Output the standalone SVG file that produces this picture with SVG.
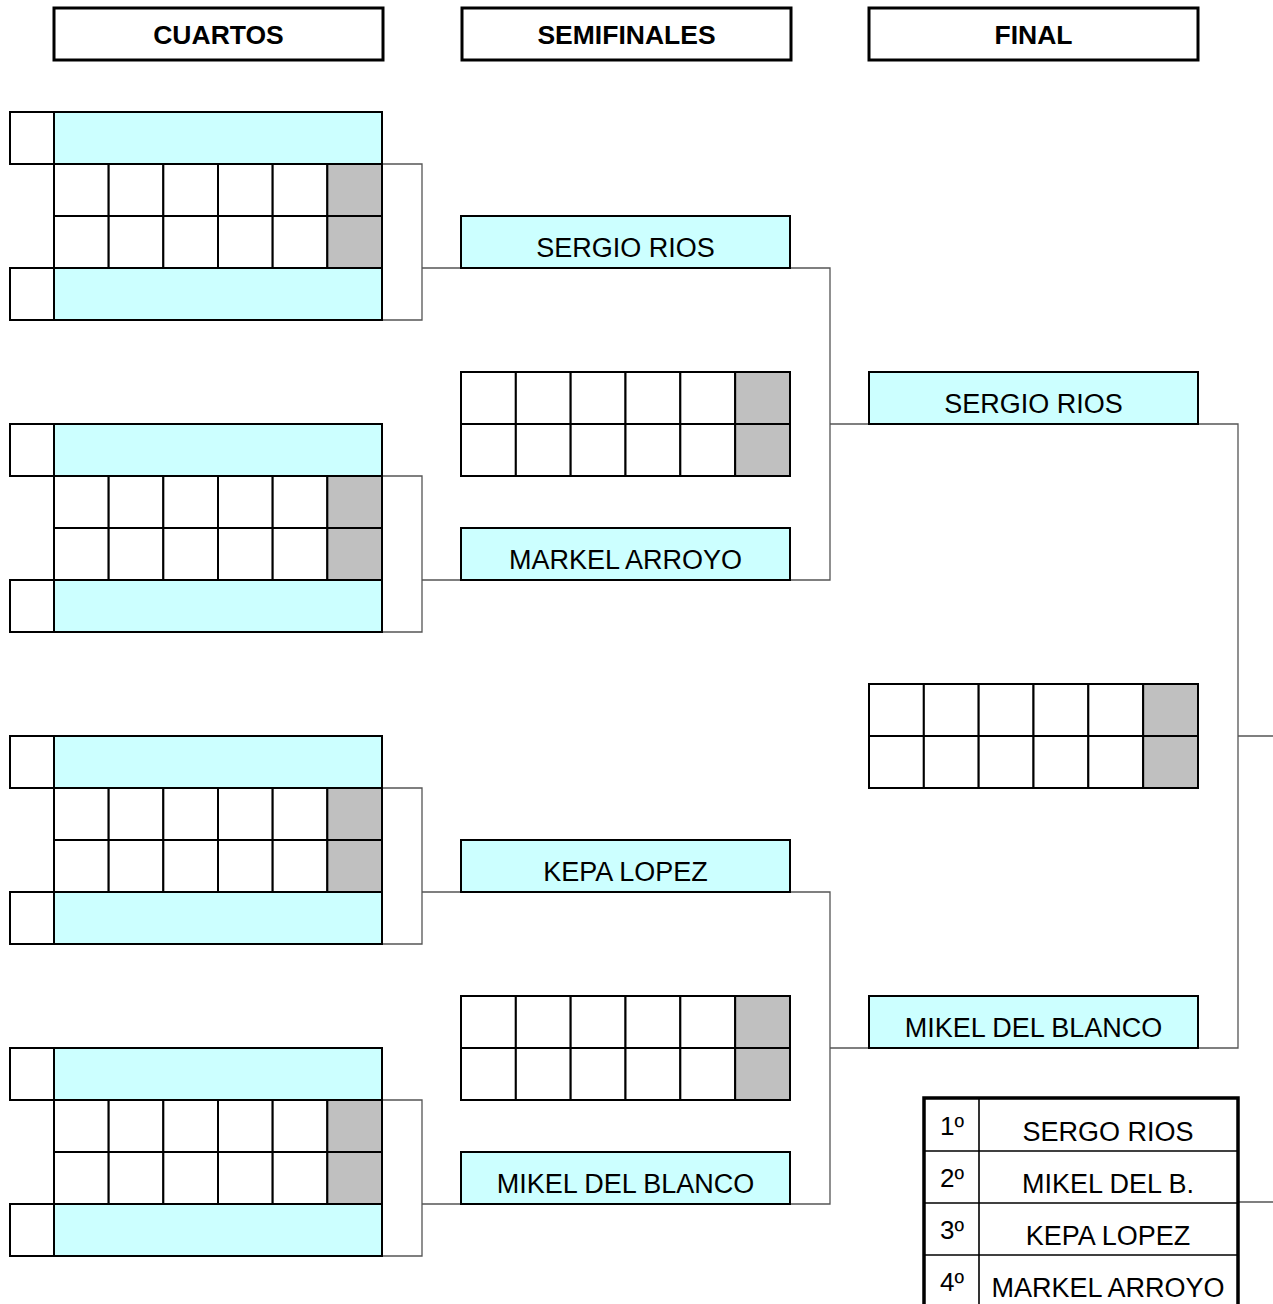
<svg xmlns="http://www.w3.org/2000/svg" width="1273" height="1304" viewBox="0 0 1273 1304">
<style>
.hdr{fill:#fff;stroke:#000;stroke-width:3}
.ht{font-family:"Liberation Sans",Arial,sans-serif;font-weight:bold;font-size:26.5px;text-anchor:middle;fill:#000}
.sq{fill:#fff;stroke:#000;stroke-width:2}
.cy{fill:#ccffff;stroke:#000;stroke-width:2}
.gr{fill:#c0c0c0;stroke:#000;stroke-width:2}
.nm{font-family:"Liberation Sans",Arial,sans-serif;font-size:27px;text-anchor:middle;fill:#000}
.rk{font-family:"Liberation Sans",Arial,sans-serif;font-size:26px;text-anchor:middle;fill:#000}
.ln{fill:none;stroke:#555;stroke-width:1.3}
.tb{fill:#fff;stroke:#000;stroke-width:3.5}
.tl{stroke:#000;stroke-width:1.6;fill:none}
</style>
<defs>
<g id="grid6q">
<rect class="sq" x="0" y="0" width="54.67" height="52"/><rect class="sq" x="54.67" y="0" width="54.67" height="52"/><rect class="sq" x="109.33" y="0" width="54.67" height="52"/><rect class="sq" x="164" y="0" width="54.67" height="52"/><rect class="sq" x="218.67" y="0" width="54.67" height="52"/><rect class="gr" x="273.33" y="0" width="54.67" height="52"/>
<rect class="sq" x="0" y="52" width="54.67" height="52"/><rect class="sq" x="54.67" y="52" width="54.67" height="52"/><rect class="sq" x="109.33" y="52" width="54.67" height="52"/><rect class="sq" x="164" y="52" width="54.67" height="52"/><rect class="sq" x="218.67" y="52" width="54.67" height="52"/><rect class="gr" x="273.33" y="52" width="54.67" height="52"/>
</g>
<g id="grid6s">
<rect class="sq" x="0" y="0" width="54.83" height="52"/><rect class="sq" x="54.83" y="0" width="54.83" height="52"/><rect class="sq" x="109.67" y="0" width="54.83" height="52"/><rect class="sq" x="164.5" y="0" width="54.83" height="52"/><rect class="sq" x="219.33" y="0" width="54.83" height="52"/><rect class="gr" x="274.17" y="0" width="54.83" height="52"/>
<rect class="sq" x="0" y="52" width="54.83" height="52"/><rect class="sq" x="54.83" y="52" width="54.83" height="52"/><rect class="sq" x="109.67" y="52" width="54.83" height="52"/><rect class="sq" x="164.5" y="52" width="54.83" height="52"/><rect class="sq" x="219.33" y="52" width="54.83" height="52"/><rect class="gr" x="274.17" y="52" width="54.83" height="52"/>
</g>
<g id="quarter">
<rect class="sq" x="10" y="0" width="44" height="52"/>
<rect class="cy" x="54" y="0" width="328" height="52"/>
<use href="#grid6q" x="54" y="52"/>
<rect class="sq" x="10" y="156" width="44" height="52"/>
<rect class="cy" x="54" y="156" width="328" height="52"/>
</g>
</defs>

<g id="connectors">
<polyline class="ln" points="382,164 422,164 422,320 382,320"/><line class="ln" x1="422" y1="268" x2="461" y2="268"/>
<polyline class="ln" points="382,476 422,476 422,632 382,632"/><line class="ln" x1="422" y1="580" x2="461" y2="580"/>
<polyline class="ln" points="382,788 422,788 422,944 382,944"/><line class="ln" x1="422" y1="892" x2="461" y2="892"/>
<polyline class="ln" points="382,1100 422,1100 422,1256 382,1256"/><line class="ln" x1="422" y1="1204" x2="461" y2="1204"/>
<polyline class="ln" points="790,268 830,268 830,580 790,580"/><line class="ln" x1="830" y1="424" x2="868" y2="424"/>
<polyline class="ln" points="790,892 830,892 830,1204 790,1204"/><line class="ln" x1="830" y1="1048" x2="868" y2="1048"/>
<polyline class="ln" points="1198,424 1238,424 1238,1048 1198,1048"/><line class="ln" x1="1238" y1="736" x2="1273" y2="736"/>
<line class="ln" x1="1238" y1="1202" x2="1273" y2="1202"/>
</g>

<g id="header-cuartos"><rect class="hdr" x="54" y="8" width="329" height="52"/><text class="ht" x="218.5" y="44">CUARTOS</text></g>
<g id="header-semifinales"><rect class="hdr" x="462" y="8" width="329" height="52"/><text class="ht" x="626.5" y="44">SEMIFINALES</text></g>
<g id="header-final"><rect class="hdr" x="869" y="8" width="329" height="52"/><text class="ht" x="1033.5" y="44">FINAL</text></g>

<g id="quarter-1"><use href="#quarter" y="112"/></g>
<g id="quarter-2"><use href="#quarter" y="424"/></g>
<g id="quarter-3"><use href="#quarter" y="736"/></g>
<g id="quarter-4"><use href="#quarter" y="1048"/></g>

<g id="semi-sergio"><rect class="cy" x="461" y="216" width="329" height="52"/><text class="nm" x="625.5" y="257">SERGIO RIOS</text></g>
<g id="semi-score-1"><use href="#grid6s" x="461" y="372"/></g>
<g id="semi-markel"><rect class="cy" x="461" y="528" width="329" height="52"/><text class="nm" x="625.5" y="569">MARKEL ARROYO</text></g>
<g id="semi-kepa"><rect class="cy" x="461" y="840" width="329" height="52"/><text class="nm" x="625.5" y="881">KEPA LOPEZ</text></g>
<g id="semi-score-2"><use href="#grid6s" x="461" y="996"/></g>
<g id="semi-mikel"><rect class="cy" x="461" y="1152" width="329" height="52"/><text class="nm" x="625.5" y="1193">MIKEL DEL BLANCO</text></g>

<g id="final-sergio"><rect class="cy" x="869" y="372" width="329" height="52"/><text class="nm" x="1033.5" y="413">SERGIO RIOS</text></g>
<g id="final-score"><use href="#grid6s" x="869" y="684"/></g>
<g id="final-mikel"><rect class="cy" x="869" y="996" width="329" height="52"/><text class="nm" x="1033.5" y="1037">MIKEL DEL BLANCO</text></g>

<g id="ranking">
<rect class="tb" x="924" y="1098" width="314" height="215"/>
<line class="tl" x1="979" y1="1098" x2="979" y2="1310"/>
<line class="tl" x1="924" y1="1151" x2="1238" y2="1151"/>
<line class="tl" x1="924" y1="1203" x2="1238" y2="1203"/>
<line class="tl" x1="924" y1="1255" x2="1238" y2="1255"/>
<text class="rk" x="952" y="1135">1º</text><text class="nm" x="1108" y="1141">SERGO RIOS</text>
<text class="rk" x="952" y="1187">2º</text><text class="nm" x="1108" y="1193">MIKEL DEL B.</text>
<text class="rk" x="952" y="1239">3º</text><text class="nm" x="1108" y="1245">KEPA LOPEZ</text>
<text class="rk" x="952" y="1291">4º</text><text class="nm" x="1108" y="1297">MARKEL ARROYO</text>
</g>
</svg>
